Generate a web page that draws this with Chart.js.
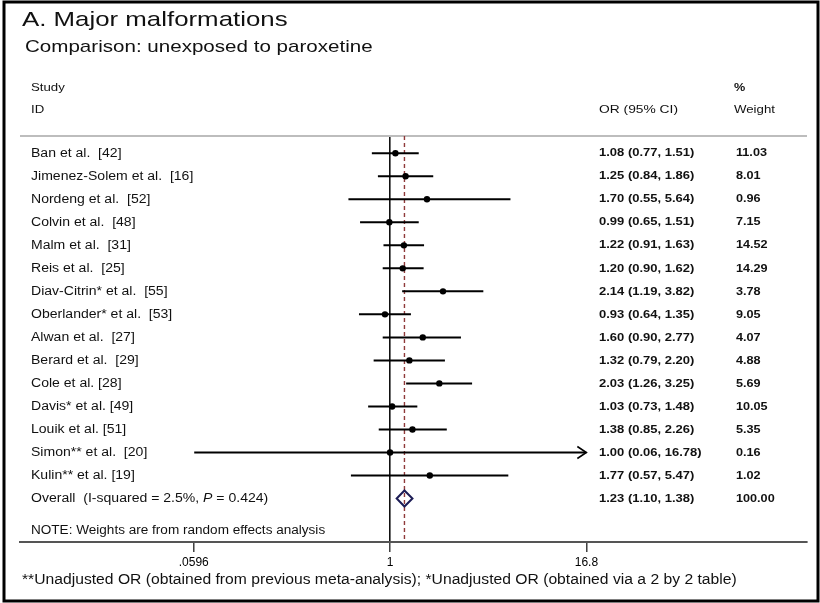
<!DOCTYPE html>
<html>
<head>
<meta charset="utf-8">
<script src="https://cdn.jsdelivr.net/npm/chart.js@4.4.1/dist/chart.umd.min.js"></script>
<style>
  html, body { margin: 0; padding: 0; background: #fff; }
  #wrap { width: 820px; height: 603px; }
</style>
</head>
<body>
<div id="wrap"><canvas id="c" width="820" height="603"></canvas></div>
<script>
// ---------- data ----------
const studies = [
  "Ban et al.  [42]",
  "Jimenez-Solem et al.  [16]",
  "Nordeng et al.  [52]",
  "Colvin et al.  [48]",
  "Malm et al.  [31]",
  "Reis et al.  [25]",
  "Diav-Citrin* et al.  [55]",
  "Oberlander* et al.  [53]",
  "Alwan et al.  [27]",
  "Berard et al.  [29]",
  "Cole et al. [28]",
  "Davis* et al. [49]",
  "Louik et al. [51]",
  "Simon** et al.  [20]",
  "Kulin** et al. [19]"
];
const oddsRatio = [1.08, 1.25, 1.70, 0.99, 1.22, 1.20, 2.14, 0.93, 1.60, 1.32, 2.03, 1.03, 1.38, 1.00, 1.77];
const ciLow     = [0.77, 0.84, 0.55, 0.65, 0.91, 0.90, 1.19, 0.64, 0.90, 0.79, 1.26, 0.73, 0.85, 0.06, 0.57];
const ciHigh    = [1.51, 1.86, 5.64, 1.51, 1.63, 1.62, 3.82, 1.35, 2.77, 2.20, 3.25, 1.48, 2.26, 16.78, 5.47];
const weights   = ["11.03", "8.01", "0.96", "7.15", "14.52", "14.29", "3.78", "9.05", "4.07", "4.88", "5.69", "10.05", "5.35", "0.16", "1.02"];
const ciArrow   = [false, false, false, false, false, false, false, false, false, false, false, false, false, true, false];
const overallOR = 1.23;
const overallLow = 1.10;
const overallHigh = 1.38;
const overallWeight = "100.00";
const overallLabel = ["Overall  (I-squared = 2.5%, ", "P", " = 0.424)"];
const xTickValues = [0.0596, 1, 16.8];
const xTickLabels = [".0596", "1", "16.8"];

// ---------- helpers ----------
function fmt(v) { return v.toFixed(2); }
function txt(ctx, s, x, y, font, sx, align, color) {
  ctx.save();
  ctx.font = font;
  ctx.fillStyle = color || '#111';
  ctx.textBaseline = 'middle';
  ctx.textAlign = align || 'left';
  ctx.translate(x, y);
  ctx.scale(sx, 1);
  ctx.fillText(s, 0, 0);
  const w = ctx.measureText(s).width * sx;
  ctx.restore();
  return w;
}

// CI line datasets built from the arrays
const ciDatasets = studies.map((s, i) => ({
  type: 'line',
  label: s,
  data: [{x: ciLow[i], y: i}, {x: ciHigh[i], y: i}],
  borderColor: '#000',
  borderWidth: 2,
  pointRadius: 0,
  fill: false,
  order: 2
}));

const pointDataset = {
  type: 'scatter',
  label: 'OR',
  data: oddsRatio.map((v, i) => ({x: v, y: i})),
  pointRadius: 3.2,
  pointBackgroundColor: '#000',
  pointBorderColor: '#000',
  pointBorderWidth: 0,
  order: 1
};

const F = '"Liberation Sans", Arial, Helvetica, sans-serif';

const forestPlugin = {
  id: 'forest',
  beforeDatasetsDraw(chart) {
    const {ctx, chartArea, scales: {x}} = chart;
    // top separator line
    ctx.save();
    ctx.strokeStyle = '#bdbdbd';
    ctx.lineWidth = 2;
    ctx.beginPath();
    ctx.moveTo(chartArea.left, chartArea.top);
    ctx.lineTo(chartArea.right, chartArea.top);
    ctx.stroke();
    // dashed overall line
    const px = x.getPixelForValue(overallOR);
    ctx.strokeStyle = '#8f3a3a';
    ctx.lineWidth = 1.4;
    ctx.setLineDash([4, 3]);
    ctx.beginPath();
    ctx.moveTo(px, chartArea.top);
    ctx.lineTo(px, chartArea.bottom);
    ctx.stroke();
    ctx.restore();
  },
  afterDatasetsDraw(chart) {
    const {ctx, scales: {x, y}} = chart;
    ctx.save();
    // arrows for truncated CIs
    ciArrow.forEach((a, i) => {
      if (!a) return;
      const px = x.getPixelForValue(ciHigh[i]);
      const py = y.getPixelForValue(i);
      ctx.strokeStyle = '#000';
      ctx.lineWidth = 1.6;
      ctx.beginPath();
      ctx.moveTo(px - 9, py - 6);
      ctx.lineTo(px, py);
      ctx.lineTo(px - 9, py + 6);
      ctx.stroke();
    });
    // overall diamond
    const yo = y.getPixelForValue(studies.length);
    const xl = x.getPixelForValue(overallLow);
    const xc = x.getPixelForValue(overallOR);
    const xr = x.getPixelForValue(overallHigh);
    ctx.strokeStyle = '#1c1c55';
    ctx.lineWidth = 2;
    ctx.beginPath();
    ctx.moveTo(xl, yo);
    ctx.lineTo(xc, yo - 8);
    ctx.lineTo(xr, yo);
    ctx.lineTo(xc, yo + 8);
    ctx.closePath();
    ctx.stroke();
    ctx.restore();
  },
  afterDraw(chart) {
    const {ctx, scales: {y}} = chart;
    // titles and headers
    txt(ctx, 'A. Major malformations', 22, 20, '21px ' + F, 1.23, 'left', '#111');
    txt(ctx, 'Comparison: unexposed to paroxetine', 25, 47, '17px ' + F, 1.21, 'left', '#111');
    txt(ctx, 'Study', 31, 88, '11.5px ' + F, 1.15);
    txt(ctx, 'ID', 31, 110, '11.5px ' + F, 1.15);
    txt(ctx, 'OR (95% CI)', 599, 110, '11.5px ' + F, 1.2);
    txt(ctx, '%', 734, 88, 'bold 11.5px ' + F, 1.1);
    txt(ctx, 'Weight', 734, 110, '11.5px ' + F, 1.15);
    // rows
    studies.forEach((s, i) => {
      const py = y.getPixelForValue(i);
      txt(ctx, s, 31, py, '12px ' + F, 1.17);
      txt(ctx, fmt(oddsRatio[i]) + ' (' + fmt(ciLow[i]) + ', ' + fmt(ciHigh[i]) + ')', 599, py, 'bold 11.5px ' + F, 1.13);
      txt(ctx, weights[i], 736, py, 'bold 11.5px ' + F, 1.1);
    });
    const po = y.getPixelForValue(studies.length);
    let xx = 31;
    xx += txt(ctx, overallLabel[0], xx, po, '12px ' + F, 1.17);
    xx += txt(ctx, overallLabel[1], xx, po, 'italic 12px ' + F, 1.17);
    txt(ctx, overallLabel[2], xx, po, '12px ' + F, 1.17);
    txt(ctx, fmt(overallOR) + ' (' + fmt(overallLow) + ', ' + fmt(overallHigh) + ')', 599, po, 'bold 11.5px ' + F, 1.13);
    txt(ctx, overallWeight, 736, po, 'bold 11.5px ' + F, 1.1);
    txt(ctx, 'NOTE: Weights are from random effects analysis', 31, 531, '12px ' + F, 1.13);
    txt(ctx, '**Unadjusted OR (obtained from previous meta-analysis); *Unadjusted OR (obtained via a 2 by 2 table)', 22, 580, '14px ' + F, 1.12);
    // frame
    ctx.save();
    ctx.strokeStyle = '#000';
    ctx.lineWidth = 3;
    ctx.strokeRect(4, 2, 814, 599);
    ctx.restore();
  }
};

new Chart(document.getElementById('c'), {
  data: { datasets: [...ciDatasets, pointDataset] },
  options: {
    responsive: false,
    animation: false,
    devicePixelRatio: 1,
    layout: { padding: { left: 20, right: 13, top: 136, bottom: 29.6 } },
    plugins: { legend: { display: false }, tooltip: { enabled: false }, title: { display: false } },
    scales: {
      x: {
        type: 'logarithmic',
        position: 'bottom',
        min: 0.00491,
        max: 399.6,
        afterBuildTicks(scale) { scale.ticks = xTickValues.map(v => ({value: v})); },
        ticks: {
          autoSkip: false,
          maxRotation: 0,
          padding: 3.5,
          color: '#000',
          font: { family: F, size: 12 },
          callback: (v, i) => xTickLabels[i]
        },
        grid: {
          drawOnChartArea: true,
          drawTicks: true,
          tickLength: 10,
          color: (c) => (c.tick && c.tick.value === 1) ? '#111' : 'rgba(0,0,0,0)',
          lineWidth: 1.6,
          tickColor: '#222',
          tickWidth: 1.3
        },
        border: { display: true, color: '#555', width: 2 }
      },
      y: {
        type: 'linear',
        display: false,
        reverse: true,
        min: -0.75,
        max: 16.89
      }
    }
  },
  plugins: [forestPlugin]
});
</script>
</body>
</html>
